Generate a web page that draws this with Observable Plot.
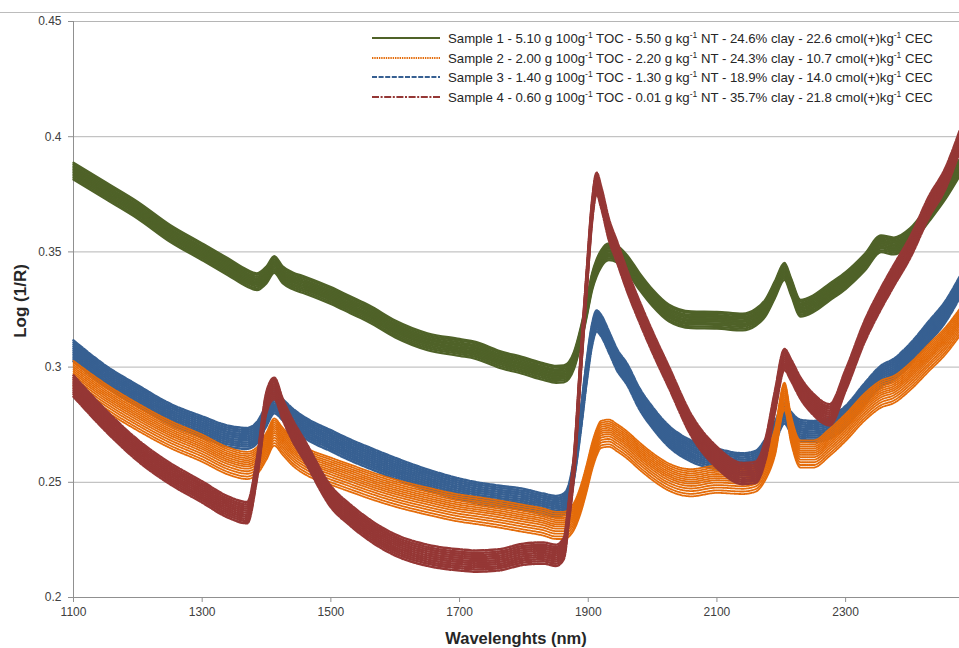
<!DOCTYPE html>
<html><head><meta charset="utf-8">
<script src="https://cdn.jsdelivr.net/npm/d3@7"></script>
<script src="https://cdn.jsdelivr.net/npm/@observablehq/plot@0.6"></script>
<style>body{margin:0;background:#fff;} #chart svg{display:block;}</style>
</head><body><div id="chart"></div>
<script>
// ---- Data ----
const wavelengths = [1100,1150,1200,1250,1300,1340,1370,1385,1400,1412,1425,1440,1460,1500,1530,1560,1600,1650,1700,1725,1760,1800,1830,1850,1862,1870,1878,1888,1898,1906,1913,1920,1932,1945,1960,1980,2000,2025,2060,2100,2140,2160,2175,2190,2205,2215,2230,2250,2275,2300,2330,2355,2375,2400,2430,2455,2477];

const sample1 = [0.385,0.3765,0.368,0.358,0.350,0.3435,0.3385,0.337,0.340,0.3445,0.340,0.3375,0.3355,0.331,0.327,0.323,0.3165,0.311,0.3085,0.3072,0.3035,0.3005,0.298,0.2968,0.297,0.2985,0.303,0.313,0.326,0.337,0.343,0.347,0.350,0.349,0.345,0.337,0.330,0.3235,0.3205,0.3203,0.3195,0.3215,0.3255,0.3335,0.3415,0.335,0.3255,0.3275,0.3325,0.3375,0.3455,0.3535,0.3525,0.3565,0.367,0.3765,0.3865];

const sample2 = [0.2975,0.2875,0.279,0.2715,0.2655,0.260,0.258,0.260,0.2665,0.2725,0.2685,0.264,0.260,0.2555,0.2525,0.2495,0.246,0.2425,0.2395,0.2385,0.237,0.235,0.2335,0.232,0.232,0.233,0.236,0.243,0.253,0.262,0.268,0.2715,0.272,0.270,0.267,0.262,0.2575,0.253,0.2505,0.252,0.2515,0.2525,0.2575,0.268,0.288,0.274,0.263,0.263,0.268,0.2745,0.2835,0.289,0.291,0.2965,0.305,0.312,0.320];

const sample3 = [0.307,0.296,0.2875,0.2795,0.274,0.270,0.269,0.2715,0.279,0.2845,0.2815,0.2775,0.2735,0.268,0.264,0.2605,0.256,0.251,0.247,0.2455,0.244,0.2425,0.2405,0.2395,0.2405,0.2445,0.256,0.276,0.299,0.314,0.320,0.318,0.311,0.303,0.297,0.286,0.278,0.270,0.2635,0.260,0.258,0.259,0.264,0.2715,0.280,0.276,0.2725,0.272,0.2735,0.2785,0.2885,0.296,0.299,0.3055,0.3155,0.324,0.3345];

const sample4 = [0.292,0.277,0.264,0.254,0.246,0.2395,0.237,0.256,0.285,0.291,0.282,0.273,0.2635,0.244,0.236,0.2295,0.223,0.2185,0.2165,0.216,0.2165,0.219,0.2195,0.2185,0.2215,0.238,0.258,0.300,0.339,0.368,0.380,0.374,0.360,0.350,0.338,0.324,0.311,0.296,0.275,0.261,0.254,0.2545,0.264,0.285,0.3035,0.299,0.291,0.284,0.2795,0.2945,0.316,0.330,0.340,0.352,0.370,0.382,0.398];

// replicate spectra: offsets of each replicate from the sample's central spectrum
const offsets1 = [-0.0036,-0.0028,-0.0020,-0.0013,-0.0006,0.0001,0.0008,0.0015,0.0022,0.0030,0.0037];
const offsets2 = [-0.0066,-0.0055,-0.0043,-0.0032,-0.0021,-0.0011,-0.0002,0.0007,0.0016,0.0025,0.0034,0.0043,0.0052];
const offsets3 = [-0.0045,-0.0035,-0.0026,-0.0017,-0.0008,0.0001,0.0010,0.0019,0.0028,0.0037,0.0046];
const offsets4 = [-0.0048,-0.0038,-0.0029,-0.0020,-0.0011,-0.0002,0.0007,0.0016,0.0025,0.0034,0.0044];

const legendLabels = [
  "Sample 1 - 5.10 g 100g^-1 TOC - 5.50 g kg^-1 NT - 24.6% clay - 22.6 cmol(+)kg^-1 CEC",
  "Sample 2 - 2.00 g 100g^-1 TOC - 2.20 g kg^-1 NT - 24.3% clay - 10.7 cmol(+)kg^-1 CEC",
  "Sample 3 - 1.40 g 100g^-1 TOC - 1.30 g kg^-1 NT - 18.9% clay - 14.0 cmol(+)kg^-1 CEC",
  "Sample 4 - 0.60 g 100g^-1 TOC - 0.01 g kg^-1 NT - 35.7% clay - 21.8 cmol(+)kg^-1 CEC"
];
const xTicks = [1100,1300,1500,1700,1900,2100,2300];
const yTicks = [0.2,0.25,0.3,0.35,0.4,0.45];
const xLabel = "Wavelenghts (nm)";
const yLabel = "Log (1/R)";

// ---- Styles ----
const styles = [
  {values: sample1, offsets: offsets1, color: "#4F6228", dash: null, width: 2.3},
  {values: sample2, offsets: offsets2, color: "#E46C0A", dash: "1.4,0.9", width: 1.8},
  {values: sample3, offsets: offsets3, color: "#376092", dash: "5,1.6", width: 2.5},
  {values: sample4, offsets: offsets4, color: "#953735", dash: "7,1.6,2,1.6", width: 2.5}
];
const drawOrder = [0, 2, 1, 3];

function rows(s, k) {
  const out = [];
  s.offsets.forEach((o, r) => {
    wavelengths.forEach((w, i) => out.push({wl: w, v: s.values[i] + o, rep: k + "-" + r}));
  });
  return out;
}

const font = "'Liberation Sans', Arial, sans-serif";
const lineMarks = drawOrder.map(k => {
  const s = styles[k];
  return Plot.line(rows(s, k), {x: "wl", y: "v", z: "rep", stroke: s.color, strokeWidth: s.width,
    strokeDasharray: s.dash, curve: "monotone-x", strokeLinejoin: "round"});
});

const chart = Plot.plot({
  width: 959, height: 648,
  marginLeft: 73, marginRight: 0, marginTop: 21, marginBottom: 51,
  style: {fontFamily: font, fontSize: "12px", color: "#404040", background: "#fff", overflow: "visible"},
  x: {domain: [1100, 2477], label: null},
  y: {domain: [0.2, 0.45], label: null},
  marks: [
    Plot.gridY(yTicks, {stroke: "#b5b5b5", strokeOpacity: 1, strokeWidth: 1}),
    Plot.ruleX([1100], {stroke: "#909090"}),
    Plot.ruleY([0.2], {stroke: "#909090"}),
    Plot.axisY(yTicks, {tickSize: 5, tickPadding: 7, stroke: "#909090", tickFormat: d => String(d), fontSize: 12, fill: "#404040"}),
    Plot.axisX(xTicks, {tickSize: 5, tickPadding: 5, stroke: "#909090", tickFormat: d => String(d), fontSize: 12, fill: "#404040"}),
    ...lineMarks
  ]
});

document.getElementById("chart").appendChild(chart);

const svg = d3.select(chart);
// top border of the chart area
svg.append("line").attr("x1", 0).attr("x2", 959).attr("y1", 12.5).attr("y2", 12.5)
  .attr("stroke", "#bcbcbc").attr("stroke-width", 1);

// axis titles
svg.append("text").attr("x", 516).attr("y", 644).attr("text-anchor", "middle")
  .attr("font-family", font).attr("font-size", 16.5).attr("font-weight", "bold").attr("fill", "#262626").text(xLabel);
svg.append("text").attr("transform", "translate(26,301) rotate(-90)").attr("text-anchor", "middle")
  .attr("font-family", font).attr("font-size", 17).attr("font-weight", "bold").attr("fill", "#262626").text(yLabel);

// legend
const legY = [38, 58, 77, 97];
legendLabels.forEach((lab, k) => {
  const s = styles[k];
  const y = legY[k];
  svg.append("line").attr("x1", 372).attr("x2", 440).attr("y1", y).attr("y2", y)
    .attr("stroke", s.color).attr("stroke-width", Math.min(s.width, 1.8)).attr("stroke-dasharray", s.dash);
  const t = svg.append("text").attr("x", 448).attr("y", y + 4.5).attr("font-family", font)
    .attr("text-anchor", "start").attr("font-size", 13.2).attr("fill", "#262626");
  const parts = lab.split("^-1");
  parts.forEach((p, j) => {
    const sp = t.append("tspan").text(p);
    if (j > 0) sp.attr("dy", 4.5);
    if (j < parts.length - 1) {
      t.append("tspan").attr("font-size", 8.5).attr("dy", -4.5).text("-1");
    }
  });
});
</script>
</body></html>
